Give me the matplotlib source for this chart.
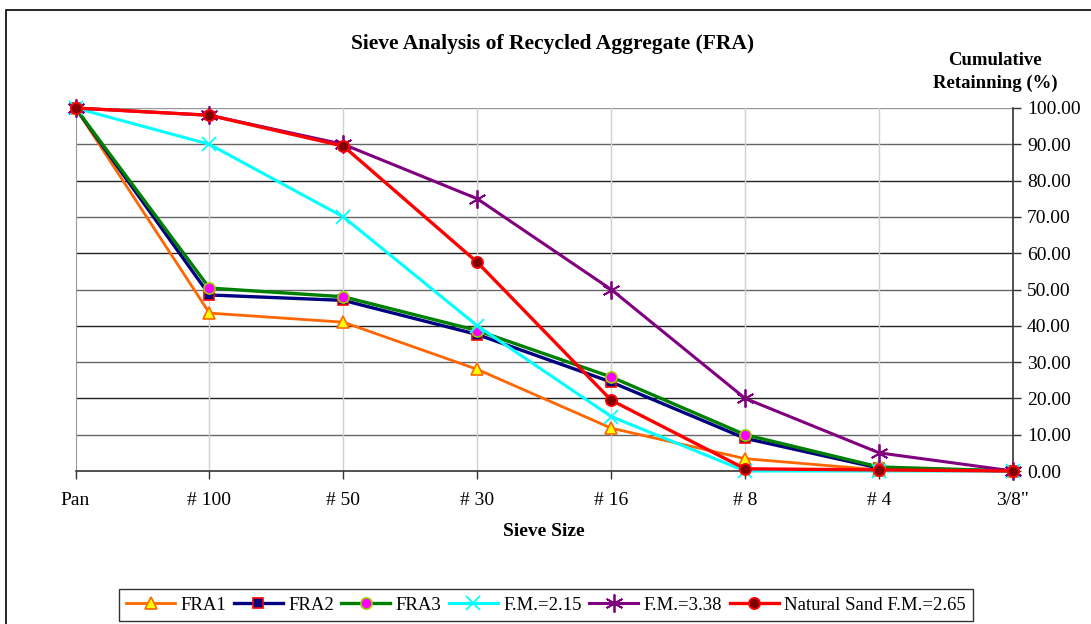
import matplotlib
matplotlib.use("Agg")
import matplotlib.pyplot as plt
from matplotlib.patches import Rectangle

categories = ["Pan", "# 100", "# 50", "# 30", "# 16", "# 8", "# 4", '3/8"']
fra1 = [100, 43.5, 41.0, 28.0, 11.8, 3.4, 0.3, 0.0]
fra2 = [100, 48.5, 47.0, 37.6, 24.5, 9.0, 0.8, 0.0]
fra3 = [100, 50.4, 48.0, 38.7, 25.9, 10.0, 1.1, 0.0]
fm215 = [100, 90.0, 70.0, 40.0, 15.0, 0.0, 0.0, 0.0]
fm338 = [100, 98.0, 90.0, 75.0, 50.0, 20.0, 5.0, 0.0]
natural = [100, 98.0, 89.5, 57.5, 19.5, 0.6, 0.3, 0.0]
yticks = [0, 10, 20, 30, 40, 50, 60, 70, 80, 90, 100]

plt.rcParams['font.family'] = ['Liberation Serif', 'DejaVu Serif']

fig = plt.figure(figsize=(10.91, 6.24), dpi=100)
ax = fig.add_axes([75.5/1091, 1-471/624, (1013-75.5)/1091, (471-108)/624])

# chart border (left/top visible, right/bottom cut off)
fig.patches.append(Rectangle((6/1091, -0.1), 1.2, 1-10/624+0.1, transform=fig.transFigure,
                             fill=False, edgecolor='black', linewidth=1.2))

x = list(range(len(categories)))

# gridlines
for v in yticks[1:-1]:
    ax.axhline(v, color='#222222' if v % 20 == 0 else '#666666', linewidth=1.0, zorder=1)
ax.axhline(100, color='#999999', linewidth=1.0, zorder=1)
for xi in x[1:-1]:
    ax.axvline(xi, color='#d0d0d0', linewidth=1.0, zorder=1)

series = [
    (fra1, "FRA1", '#FF6600', 2.0, dict(marker='^', markersize=9, markerfacecolor='#FFFF00', markeredgecolor='#FF6600', markeredgewidth=1.2)),
    (fra2, "FRA2", '#000080', 2.4, dict(marker='s', markersize=7.5, markerfacecolor='#000080', markeredgecolor='#FF0000', markeredgewidth=1.2)),
    (fra3, "FRA3", '#008000', 2.4, dict(marker='o', markersize=8, markerfacecolor='#FF00FF', markeredgecolor='#99CC00', markeredgewidth=1.2)),
    (fm215, "F.M.=2.15", '#00FFFF', 2.2, dict(marker='x', markersize=10, markeredgecolor='#00FFFF', markeredgewidth=1.3)),
    (fm338, "F.M.=3.38", '#800080', 2.2, dict(marker=(6, 2, 0), markersize=13, markeredgecolor='#800080', markeredgewidth=1.3)),
    (natural, "Natural Sand F.M.=2.65", '#FF0000', 2.4, dict(marker='o', markersize=8, markerfacecolor='#800000', markeredgecolor='#FF0000', markeredgewidth=1.3)),
]
for vals, lab, col, lw, mk in series:
    ax.plot(x, vals, color=col, linewidth=lw, label=lab, clip_on=False, zorder=3, **mk)

ax.set_xlim(0, 7)
ax.set_ylim(0, 100)
ax.yaxis.tick_right()
ax.set_yticks(yticks)
ax.set_yticklabels([f"{v:.2f}" for v in yticks], fontsize=14)
ax.set_xticks(x)
ax.set_xticklabels(categories, fontsize=14)
ax.tick_params(axis='x', direction='out', length=6, width=1, pad=9, color='#333333')
ax.tick_params(axis='y', direction='out', length=6, width=1, pad=4, color='#333333')

ax.spines['top'].set_visible(False)
ax.spines['left'].set_color('#999999')
ax.spines['bottom'].set_color('#333333')
ax.spines['right'].set_color('#333333')
ax.spines['bottom'].set_linewidth(1.2)
ax.spines['right'].set_linewidth(1.2)

fig.text(553/1091, 1-44/624, "Sieve Analysis of Recycled Aggregate (FRA)", ha='center', va='center',
         fontsize=15.5, fontweight='bold')
fig.text(995/1091, 1-72/624, "Cumulative\nRetainning (%)", ha='center', va='center',
         fontsize=13.5, fontweight='bold', linespacing=1.45)
fig.text(544/1091, 1-531/624, "Sieve Size", ha='center', va='center', fontsize=14, fontweight='bold')

leg = fig.legend(loc='center', bbox_to_anchor=(546/1091, 1-605/624), ncol=6, fontsize=13.5,
                 frameon=True, fancybox=False, edgecolor='black', handlelength=2.6,
                 handletextpad=0.3, columnspacing=0.4, borderpad=0.4)
leg.get_frame().set_linewidth(1.0)

fig.savefig("out.png", dpi=100)
